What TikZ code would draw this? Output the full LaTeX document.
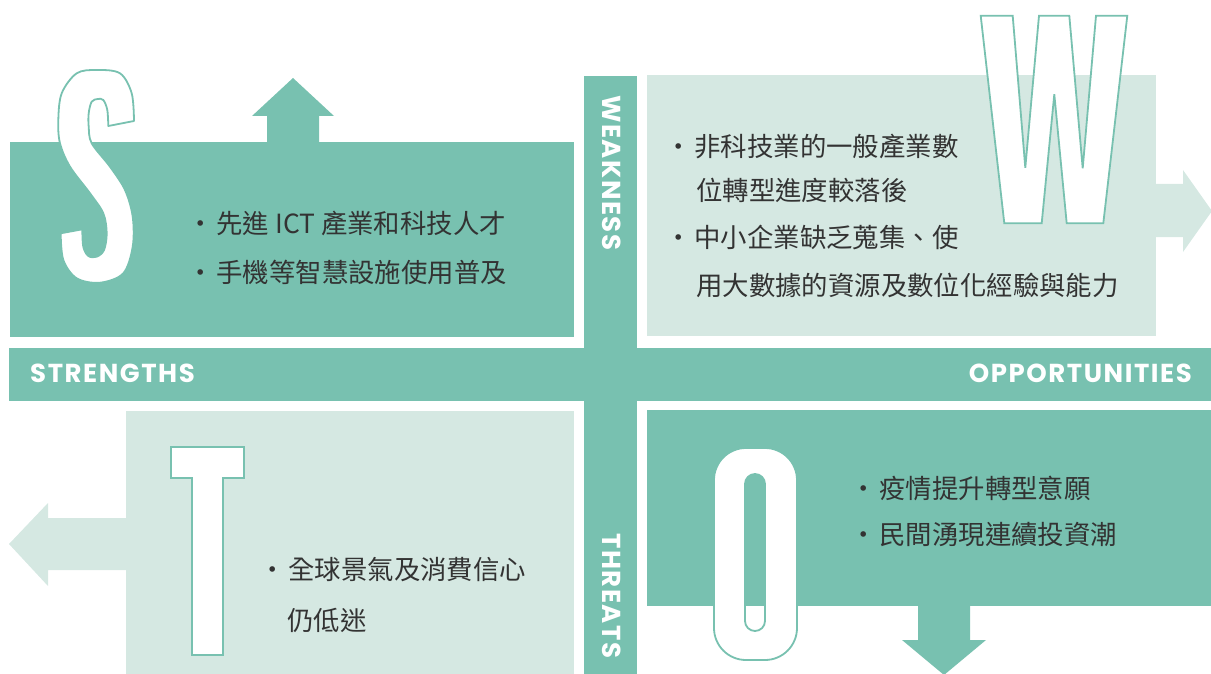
\documentclass[tikz,border=0pt]{standalone}
\usepackage{fontspec}
\newfontfamily\cjk{Noto Sans CJK TC}
\newfontfamily\labelfont[LetterSpace=6]{Poppins}
\newcommand\bulletmark{・\hspace{3pt}}

\definecolor{swotteal}{RGB}{120,193,176}
\definecolor{swotlight}{RGB}{213,232,226}
\definecolor{swottext}{RGB}{51,51,51}

\begin{document}
\begin{tikzpicture}[
    x=1pt, y=-1pt,
    darkbox/.style={fill=swotteal},
    lightbox/.style={fill=swotlight},
    letter/.style={fill=white, draw=swotteal, line width=1.8pt},
    caption/.style={text=white, inner sep=0pt, font=\labelfont\bfseries\fontsize{26}{26}\selectfont},
    point/.style={text=swottext, inner sep=0pt, anchor=west, font=\cjk\fontsize{26.4}{30}\selectfont}
]
\useasboundingbox (0,0) rectangle (1211,674);

% Quadrant boxes
\fill[darkbox]  (10,142) rectangle (574,337);   % S
\fill[lightbox] (647,75) rectangle (1156,336);  % W
\fill[lightbox] (126,411) rectangle (574,674);  % T
\fill[darkbox]  (647,410) rectangle (1211,606); % O

% Cross bands
\fill[darkbox] (9,348) rectangle (1211,401);
\fill[darkbox] (584,76) rectangle (637,674);

% Block arrows
\fill[darkbox] (267,142) -- (267,116) -- (252,116) -- (293,78)
    -- (334,116) -- (319,116) -- (319,142) -- cycle;
\fill[lightbox] (1156,184) -- (1183,184) -- (1183,170) -- (1212,211)
    -- (1183,252) -- (1183,237) -- (1156,237) -- cycle;
\fill[lightbox] (126,518) -- (48,518) -- (48,503) -- (9,544)
    -- (48,586) -- (48,570) -- (126,570) -- cycle;
\fill[darkbox] (918,606) -- (918,640) -- (902,640) -- (944,675)
    -- (986,640) -- (970,640) -- (970,606) -- cycle;

% Big letters
\filldraw[letter, line join=round]
    plot[smooth, tension=0.55] coordinates {(108.3,126) (107.3,110) (103.3,100)
      (97.7,99) (91.7,101.7) (88.7,113.3) (88.7,126.7) (91.7,143.3) (110,166.7)
      (125,190) (132.7,216.7) (132.7,246.7) (123.3,273.3) (100,282.7) (76.7,278.3)
      (63.3,260) (60.7,233.3)}
    -- plot[smooth, tension=0.55] coordinates {(82.3,229.3) (83.3,246.7)
      (88.3,256) (96.7,256.7) (104,250) (106.7,233.3) (103.3,213.3) (90,193.3)
      (70,166.7) (60,143.3) (58.3,120) (61.7,93.3) (76.7,73.3) (96.7,70)
      (120,73.3) (131.7,93.3) (134,121)}
    -- cycle;
\filldraw[letter] (980.7,15.7) -- (1012.7,15.7) -- (1025.3,167.7) -- (1039,15.7)
    -- (1069.3,15.7) -- (1082.7,168.3) -- (1096,15.7) -- (1127.3,15.7)
    -- (1103.3,223.3) -- (1066.7,223.3) -- (1054.3,94.3) -- (1041.7,223.3)
    -- (1004.3,223.3) -- cycle;
\filldraw[letter] (171,447) -- (244,447) -- (244,478) -- (223,478) -- (223,655)
    -- (192,655) -- (192,478) -- (171,478) -- cycle;
\filldraw[letter, even odd rule]
    (714,448) [rounded corners=32pt] rectangle (797,660)
    (745,474) [rounded corners=10pt] rectangle (765,631);

% Band captions
\node[caption, anchor=west] (strengths) at (30,373) {STRENGTHS};
\node[caption, anchor=east] (opportunities) at (1192,373) {OPPORTUNITIES};
\node[caption, anchor=west, rotate=-90] (weakness) at (612,95) {WEAKNESS};
\node[caption, anchor=west, rotate=-90] (threats) at (612,533) {THREATS};

% Strengths
\node[point] (s1) at (187,223) {\bulletmark 先進 ICT 產業和科技人才};
\node[point] (s2) at (187,272) {\bulletmark 手機等智慧設施使用普及};

% Weakness
\node[point] (w1) at (665,146) {\bulletmark 非科技業的一般產業數};
\node[point] (w2) at (696,190) {位轉型進度較落後};
\node[point] (w3) at (665,237) {\bulletmark 中小企業缺乏蒐集、使};
\node[point] (w4) at (696,285) {用大數據的資源及數位化經驗與能力};

% Threats
\node[point] (t1) at (259,570) {\bulletmark 全球景氣及消費信心};
\node[point] (t2) at (287,620) {仍低迷};

% Opportunities
\node[point] (o1) at (850,488) {\bulletmark 疫情提升轉型意願};
\node[point] (o2) at (850,535) {\bulletmark 民間湧現連續投資潮};

\end{tikzpicture}
\end{document}
